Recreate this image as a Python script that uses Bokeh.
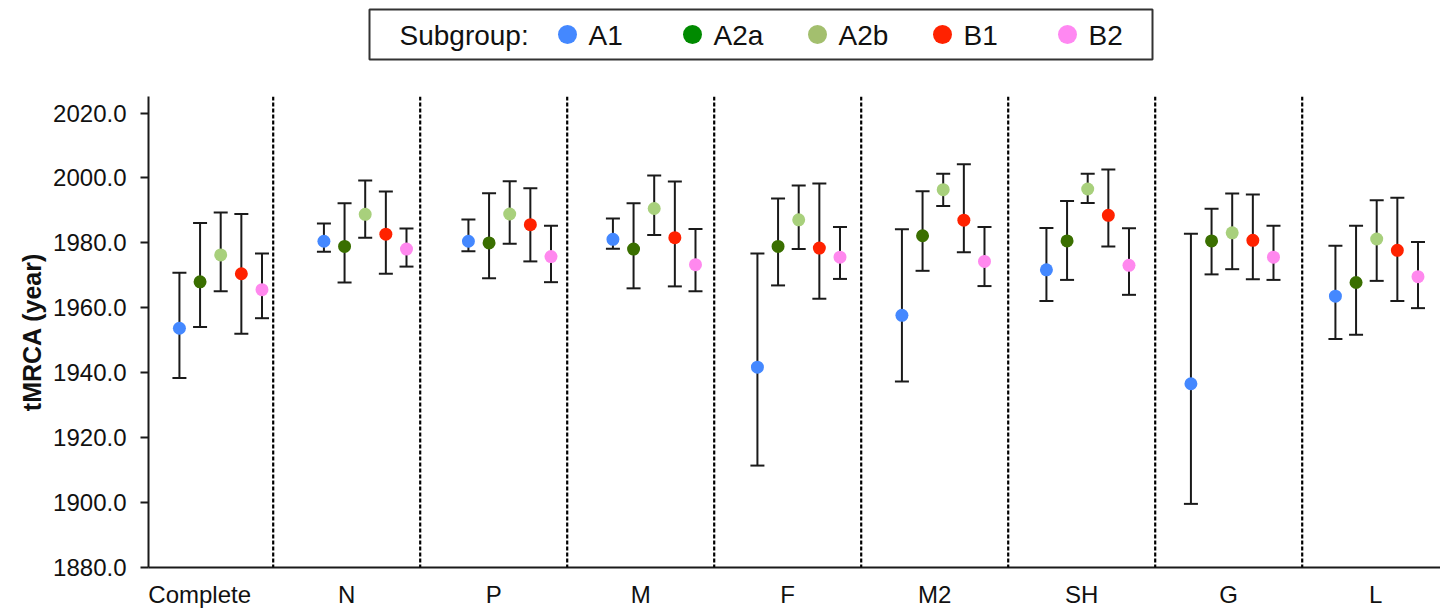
from bokeh.plotting import figure
from bokeh.layouts import column
from bokeh.models import (Range1d, FixedTicker, NumeralTickFormatter, Span, Whisker,
                          TeeHead, ColumnDataSource, Title)
from bokeh.core.properties import value
from bokeh.embed import file_html
from bokeh.resources import INLINE

# ---------------- data ----------------
categories = ["Complete", "N", "P", "M", "F", "M2", "SH", "G", "L"]
subgroups = ["A1", "A2a", "A2b", "B1", "B2"]

a1_mean = [1953.7, 1980.5, 1980.5, 1981.1, 1941.7, 1957.7, 1971.7, 1936.6, 1963.6]
a1_low  = [1938.4, 1977.3, 1977.4, 1978.2, 1911.4, 1937.3, 1962.1, 1899.6, 1950.4]
a1_high = [1970.8, 1986.0, 1987.2, 1987.5, 1976.7, 1984.2, 1984.6, 1982.8, 1979.1]

a2a_mean = [1968.0, 1978.9, 1980.0, 1978.1, 1978.9, 1982.2, 1980.6, 1980.6, 1967.8]
a2a_low  = [1954.1, 1967.8, 1969.1, 1966.0, 1966.9, 1971.4, 1968.6, 1970.3, 1951.7]
a2a_high = [1986.1, 1992.2, 1995.3, 1992.2, 1993.7, 1995.9, 1992.9, 1990.5, 1985.3]

a2b_mean = [1976.3, 1988.8, 1988.9, 1990.6, 1987.1, 1996.4, 1996.6, 1983.1, 1981.2]
a2b_low  = [1965.1, 1981.6, 1979.7, 1982.4, 1978.1, 1991.4, 1992.3, 1971.9, 1968.3]
a2b_high = [1989.4, 1999.2, 1999.0, 2000.8, 1997.7, 2001.3, 2001.3, 1995.2, 1993.1]

b1_mean = [1970.5, 1982.7, 1985.6, 1981.6, 1978.4, 1987.0, 1988.5, 1980.8, 1977.7]
b1_low  = [1952.0, 1970.5, 1974.3, 1966.6, 1962.8, 1977.1, 1978.9, 1968.8, 1962.1]
b1_high = [1988.9, 1995.8, 1996.8, 1998.9, 1998.3, 2004.2, 2002.6, 1994.9, 1993.9]

b2_mean = [1965.6, 1978.1, 1975.8, 1973.3, 1975.6, 1974.3, 1973.1, 1975.6, 1969.6]
b2_low  = [1956.8, 1972.7, 1967.9, 1965.1, 1968.9, 1966.7, 1964.0, 1968.6, 1959.9]
b2_high = [1976.7, 1984.4, 1985.3, 1984.3, 1984.9, 1984.9, 1984.5, 1985.3, 1980.3]

y_ticks = [1880, 1900, 1920, 1940, 1960, 1980, 2000, 2020]
y_label = "tMRCA (year)"
legend_title = "Subgroup:"

series = [
    (a1_mean, a1_low, a1_high),
    (a2a_mean, a2a_low, a2a_high),
    (a2b_mean, a2b_low, a2b_high),
    (b1_mean, b1_low, b1_high),
    (b2_mean, b2_low, b2_high),
]

# ---------------- styles ----------------
point_colors = ["#4488FF", "#3A6F00", "#A8D07C", "#FF2200", "#FF88EE"]
legend_colors = ["#4488FF", "#008A00", "#A3BF6E", "#FF2200", "#FF88F2"]
INK = "#1a1a1a"
FONT = "Liberation Sans"

W = 1440
LEG_H = 62
MAIN_H = 548
FRAME_L = 148

# ---------------- legend strip ----------------
leg = figure(width=W, height=LEG_H, x_range=Range1d(FRAME_L, W), y_range=Range1d(LEG_H, 0),
             x_axis_type=None, y_axis_type=None, toolbar_location=None,
             output_backend="svg", min_border=0, min_border_left=FRAME_L,
             min_border_right=0, outline_line_color=None)
leg.grid.visible = False
leg.quad(left=[369], right=[1152], top=[9], bottom=[59], fill_color=None,
         line_color="#333333", line_width=2)
leg.text(x=[399], y=[35], text=[legend_title], text_font=value(FONT),
         text_font_size="28px", text_baseline="middle", text_align="left", text_color="#111111")
dot_x = [567 + 125 * k for k in range(len(subgroups))]
leg.scatter(x=dot_x, y=[34] * len(subgroups), size=19, fill_color=legend_colors,
            line_color=None)
leg.text(x=[d + 21 for d in dot_x], y=[35] * len(subgroups), text=subgroups,
         text_font=value(FONT), text_font_size="28px", text_baseline="middle",
         text_align="left", text_color="#111111")

# ---------------- main chart ----------------
n = len(categories)
p = figure(width=W, height=MAIN_H, x_range=Range1d(0.1517, 8.9408), y_range=Range1d(1880, 2025.1),
           toolbar_location=None, output_backend="svg",
           min_border_left=FRAME_L, min_border_right=0, min_border_top=34, min_border_bottom=38)
p.extra_x_ranges = {"pts": Range1d(-0.4997, 8.4415)}
p.outline_line_color = None
p.grid.visible = False
p.background_fill_color = "white"
p.border_fill_color = "white"

# category separators
for i in range(1, n):
    p.add_layout(Span(location=i, dimension="height", line_color="#000000", line_width=2.2,
                      line_dash="4 2"))

offsets = [(k - 2) / 7.0 for k in range(len(subgroups))]
for k, (mean, low, high) in enumerate(series):
    xs = [i + offsets[k] for i in range(n)]
    src = ColumnDataSource(dict(x=xs, mean=mean, low=low, high=high))
    wh = Whisker(source=src, base="x", upper="high", lower="low", x_range_name="pts",
                 line_color=INK, line_width=2,
                 upper_head=TeeHead(size=14, line_color=INK, line_width=2),
                 lower_head=TeeHead(size=14, line_color=INK, line_width=2))
    p.add_layout(wh)
    p.scatter(x="x", y="mean", source=src, size=13, fill_color=point_colors[k],
              line_color=None, x_range_name="pts")

# y axis
p.yaxis.ticker = FixedTicker(ticks=y_ticks)
p.yaxis.formatter = NumeralTickFormatter(format="0.0")
p.yaxis.minor_tick_line_color = None
p.yaxis.major_tick_in = 0
p.yaxis.major_tick_out = 8
p.yaxis.major_tick_line_width = 2
p.yaxis.major_tick_line_color = INK
p.yaxis.axis_line_width = 2
p.yaxis.axis_line_color = INK
p.yaxis.major_label_text_font = FONT
p.yaxis.major_label_text_font_size = "24px"
p.yaxis.major_label_text_color = "#111111"
p.yaxis.major_label_standoff = 14

ytitle = Title(text=y_label, align="center", offset=35, standoff=10,
               text_font=FONT, text_font_size="25px", text_font_style="bold",
               text_color="#111111")
p.add_layout(ytitle, "left")

# x axis
p.xaxis.ticker = FixedTicker(ticks=[i + 0.5 for i in range(n)])
p.xaxis.major_label_overrides = {i + 0.5: c for i, c in enumerate(categories)}
p.xaxis.minor_tick_line_color = None
p.xaxis.major_tick_line_color = None
p.xaxis.major_tick_in = 0
p.xaxis.major_tick_out = 0
p.xaxis.axis_line_width = 2
p.xaxis.axis_line_color = INK
p.xaxis.major_label_text_font = FONT
p.xaxis.major_label_text_font_size = "24px"
p.xaxis.major_label_text_color = "#111111"
p.xaxis.major_label_standoff = 13

layout = column(leg, p, spacing=0)
open("out.html", "w").write(file_html(layout, INLINE))
